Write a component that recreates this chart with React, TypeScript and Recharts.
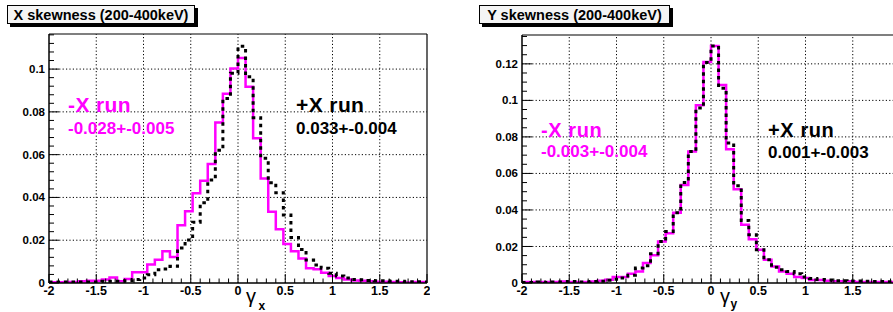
import React from 'react';
import { LineChart, Line, XAxis, YAxis, ReferenceLine } from 'recharts';

const FONT = '"Liberation Sans", Arial, Helvetica, sans-serif';

// histogram bin edges (50 bins of 0.08 from -2 to 2)
const binEdges = [
  -2, -1.92, -1.84, -1.76, -1.68, -1.6, -1.52, -1.44, -1.36, -1.28,
  -1.2, -1.12, -1.04, -0.96, -0.88, -0.8, -0.72, -0.64, -0.56, -0.48,
  -0.4, -0.32, -0.24, -0.16, -0.08, 0, 0.08, 0.16, 0.24, 0.32,
  0.4, 0.48, 0.56, 0.64, 0.72, 0.8, 0.88, 0.96, 1.04, 1.12,
  1.2, 1.28, 1.36, 1.44, 1.52, 1.6, 1.68, 1.76, 1.84, 1.92, 2,
];

// X skewness, -X run (magenta)
const xSkewMinusRun = [
  0.0003, 0.0003, 0.0005, 0.0005, 0.0008, 0.001, 0.001, 0.0016, 0.0026, 0.0008,
  0.0019, 0.005, 0.005, 0.0086, 0.0109, 0.0148, 0.0121, 0.027, 0.0335, 0.0419,
  0.0478, 0.0556, 0.075, 0.0885, 0.1003, 0.1052, 0.0917, 0.0677, 0.0489, 0.0333,
  0.0251, 0.0182, 0.0148, 0.0115, 0.0069, 0.0064, 0.0048, 0.0033, 0.0023, 0.0016,
  0.0012, 0.001, 0.0008, 0.0006, 0.0006, 0.0005, 0.0003, 0.0002, 0.0005, 0.0005,
];
// X skewness, +X run (black dashed)
const xSkewPlusRun = [
  0.0005, 0.0005, 0.0005, 0.0005, 0.0005, 0.0005, 0.0005, 0.0008, 0.0008, 0.0008,
  0.001, 0.0016, 0.0023, 0.0039, 0.0062, 0.0065, 0.0078, 0.0164, 0.0201, 0.0284,
  0.0375, 0.0481, 0.062, 0.0863, 0.098, 0.1107, 0.0964, 0.0773, 0.0583, 0.0469,
  0.0422, 0.0318, 0.0213, 0.0157, 0.0107, 0.0084, 0.0069, 0.0045, 0.0033, 0.0023,
  0.0016, 0.0015, 0.0012, 0.001, 0.001, 0.0008, 0.0008, 0.0006, 0.0006, 0.0005,
];
// Y skewness, -X run (magenta)
const ySkewMinusRun = [
  0.0005, 0.0005, 0.0005, 0.0005, 0.0005, 0.0008, 0.0006, 0.0006, 0.0005, 0.0008,
  0.0013, 0.0018, 0.0033, 0.0033, 0.0051, 0.0063, 0.011, 0.0152, 0.0227, 0.0273,
  0.0385, 0.0537, 0.072, 0.0974, 0.121, 0.1298, 0.1084, 0.0733, 0.0514, 0.0319,
  0.024, 0.0182, 0.0127, 0.0091, 0.0063, 0.0051, 0.0033, 0.0027, 0.0016, 0.0016,
  0.0013, 0.0009, 0.0009, 0.0009, 0.0005, 0.0005, 0.0005, 0.0005, 0.0005, 0.0005,
];
// Y skewness, +X run (black dashed)
const ySkewPlusRun = [
  0.0003, 0.0003, 0.0005, 0.0003, 0.0005, 0.0005, 0.0008, 0.0005, 0.0005, 0.0008,
  0.001, 0.0015, 0.002, 0.0028, 0.0042, 0.0082, 0.0095, 0.016, 0.0227, 0.0282,
  0.0385, 0.055, 0.072, 0.0958, 0.1208, 0.1298, 0.1067, 0.0767, 0.0532, 0.0342,
  0.0264, 0.0182, 0.0127, 0.0086, 0.0073, 0.0063, 0.0051, 0.0033, 0.0025, 0.0019,
  0.0016, 0.0013, 0.0013, 0.0011, 0.0011, 0.0009, 0.0008, 0.0008, 0.0007, 0.0006,
];

// axis ticks
const xTicks = [
  -2, -1.9, -1.8, -1.7, -1.6, -1.5, -1.4, -1.3, -1.2, -1.1, -1, -0.9, -0.8, -0.7, -0.6,
  -0.5, -0.4, -0.3, -0.2, -0.1, 0, 0.1, 0.2, 0.3, 0.4, 0.5, 0.6, 0.7, 0.8, 0.9, 1,
  1.1, 1.2, 1.3, 1.4, 1.5, 1.6, 1.7, 1.8, 1.9, 2,
];
const xGrid = [-1.5, -1, -0.5, 0, 0.5, 1, 1.5];
const leftYTicks = [
  0, 0.004, 0.008, 0.012, 0.016, 0.02, 0.024, 0.028, 0.032, 0.036, 0.04, 0.044, 0.048,
  0.052, 0.056, 0.06, 0.064, 0.068, 0.072, 0.076, 0.08, 0.084, 0.088, 0.092, 0.096,
  0.1, 0.104, 0.108, 0.112, 0.116,
];
const leftYGrid = [0.02, 0.04, 0.06, 0.08, 0.1];
const rightYTicks = [
  0, 0.005, 0.01, 0.015, 0.02, 0.025, 0.03, 0.035, 0.04, 0.045, 0.05, 0.055, 0.06,
  0.065, 0.07, 0.075, 0.08, 0.085, 0.09, 0.095, 0.1, 0.105, 0.11, 0.115, 0.12, 0.125,
  0.13, 0.135,
];
const rightYGrid = [0.02, 0.04, 0.06, 0.08, 0.1, 0.12];

function buildRows(a: number[], b: number[]) {
  return binEdges.map((x, i) => ({
    x,
    minus: a[Math.min(i, a.length - 1)],
    plus: b[Math.min(i, b.length - 1)],
  }));
}

function isMajor(v: number, step: number) {
  const r = v / step;
  return Math.abs(r - Math.round(r)) < 1e-6;
}

function makeXTick(maxLabel: number) {
  return (props: any) => {
    const { x, y, payload } = props;
    const v = payload.value;
    const major = isMajor(v, 0.5);
    return (
      <g>
        <line x1={x} x2={x} y1={y} y2={y - (major ? 9 : 4.5)} stroke="#000" strokeWidth={1} />
        {major && v <= maxLabel && (
          <text x={x} y={y + 11.5} textAnchor="middle" fontFamily={FONT} fontWeight="bold" fontSize={12.5} fill="#000">
            {String(v)}
          </text>
        )}
      </g>
    );
  };
}

const YTick = (props: any) => {
  const { x, y, payload } = props;
  const v = payload.value;
  const major = isMajor(v, 0.02);
  return (
    <g>
      <line x1={x} x2={x + (major ? 10 : 5)} y1={y} y2={y} stroke="#000" strokeWidth={1} />
      {major && (
        <text x={x - 4} y={y} dy="0.35em" textAnchor="end" fontFamily={FONT} fontWeight="bold" fontSize={11.5} fill="#000">
          {String(+v.toFixed(2))}
        </text>
      )}
    </g>
  );
};

type PanelProps = {
  rows: any[];
  yMax: number;
  yTicks: number[];
  yGrid: number[];
  width: number;
  marginTop: number;
  marginRight: number;
  yAxisWidth: number;
  maxXLabel: number;
};

function Panel({ rows, yMax, yTicks, yGrid, width, marginTop, marginRight, yAxisWidth, maxXLabel }: PanelProps) {
  return (
    <LineChart
      width={width}
      height={312}
      data={rows}
      margin={{ top: marginTop, right: marginRight, bottom: 0, left: 0 }}
    >
      <XAxis
        type="number"
        dataKey="x"
        domain={[-2, 2]}
        allowDataOverflow
        ticks={xTicks}
        interval={0}
        tickSize={0}
        tickMargin={0}
        tickLine={false}
        tick={makeXTick(maxXLabel)}
        height={29}
        axisLine={{ stroke: '#000', strokeWidth: 1.5 }}
      />
      <YAxis
        type="number"
        domain={[0, yMax]}
        allowDataOverflow
        ticks={yTicks}
        interval={0}
        tickSize={0}
        tickMargin={0}
        tickLine={false}
        tick={YTick}
        width={yAxisWidth}
        axisLine={{ stroke: '#000', strokeWidth: 1.5 }}
      />
      {xGrid.map((g) => (
        <ReferenceLine key={'gx' + g} x={g} stroke="#000" strokeWidth={1} strokeDasharray="1.2 2.2" />
      ))}
      {yGrid.map((g) => (
        <ReferenceLine key={'gy' + g} y={g} stroke="#000" strokeWidth={1} strokeDasharray="1.2 2.2" />
      ))}
      <ReferenceLine y={yMax} stroke="#000" strokeWidth={1.2} />
      <ReferenceLine x={2} stroke="#000" strokeWidth={1.2} />
      <Line
        type="stepAfter"
        dataKey="minus"
        stroke="#ff00ff"
        strokeWidth={2.5}
        dot={false}
        activeDot={false}
        isAnimationActive={false}
      />
      <Line
        type="stepAfter"
        dataKey="plus"
        stroke="#000"
        strokeWidth={3}
        strokeDasharray="3.5 4"
        dot={false}
        activeDot={false}
        isAnimationActive={false}
      />
    </LineChart>
  );
}

const titleStyle: React.CSSProperties = {
  position: 'absolute',
  height: 19,
  lineHeight: '19px',
  background: '#f4f4f4',
  border: '1px solid #000',
  boxShadow: '3px 3px 0 #000',
  fontFamily: FONT,
  fontWeight: 'bold',
  fontSize: 14.5,
  textAlign: 'center',
  whiteSpace: 'nowrap',
  boxSizing: 'border-box',
  color: '#000',
};

export default function App() {
  const leftRows = buildRows(xSkewMinusRun, xSkewPlusRun);
  const rightRows = buildRows(ySkewMinusRun, ySkewPlusRun);
  return (
    <div
      style={{
        position: 'absolute',
        left: 0,
        top: 0,
        width: 893,
        height: 312,
        overflow: 'hidden',
        background: '#fff',
      }}
    >
      <div style={{ position: 'absolute', left: 0, top: 0 }}>
        <Panel
          rows={leftRows}
          yMax={0.1164}
          yTicks={leftYTicks}
          yGrid={leftYGrid}
          width={430}
          marginTop={34}
          marginRight={3}
          yAxisWidth={49}
          maxXLabel={2}
        />
      </div>
      <div style={{ position: 'absolute', left: 450, top: 0 }}>
        <Panel
          rows={rightRows}
          yMax={0.1358}
          yTicks={rightYTicks}
          yGrid={rightYGrid}
          width={455}
          marginTop={35}
          marginRight={5}
          yAxisWidth={72}
          maxXLabel={1.5}
        />
      </div>
      <div style={{ ...titleStyle, left: 7, top: 5, width: 188 }}>X skewness (200-400keV)</div>
      <div style={{ ...titleStyle, left: 479, top: 5, width: 191 }}>Y skewness (200-400keV)</div>
      <svg
        width={893}
        height={312}
        style={{ position: 'absolute', left: 0, top: 0, pointerEvents: 'none' }}
        fontFamily={FONT}
        fontWeight="bold"
      >
        <text x={68} y={112} fontSize={21} letterSpacing={0.4} fill="#ff00ff">-X run</text>
        <text x={68} y={133.5} fontSize={17} fill="#ff00ff">-0.028+-0.005</text>
        <text x={296} y={112} fontSize={21} letterSpacing={0.4} fill="#000">+X run</text>
        <text x={296} y={133.5} fontSize={17} fill="#000">0.033+-0.004</text>
        <text x={541} y={136.5} fontSize={20} letterSpacing={0.6} fill="#ff00ff">-X run</text>
        <text x={541} y={157} fontSize={17} fill="#ff00ff">-0.003+-0.004</text>
        <text x={768} y={137} fontSize={20} letterSpacing={0.6} fill="#000">+X run</text>
        <text x={768} y={157.5} fontSize={17} fill="#000">0.001+-0.003</text>
        <text x={246} y={302.5} fontSize={20} fontWeight="normal" fill="#000">γ</text>
        <text x={258.5} y={309.5} fontSize={12} fill="#000">x</text>
        <text x={720} y={302.5} fontSize={20} fontWeight="normal" fill="#000">γ</text>
        <text x={730.5} y={307.5} fontSize={12} fill="#000">y</text>
      </svg>
    </div>
  );
}
